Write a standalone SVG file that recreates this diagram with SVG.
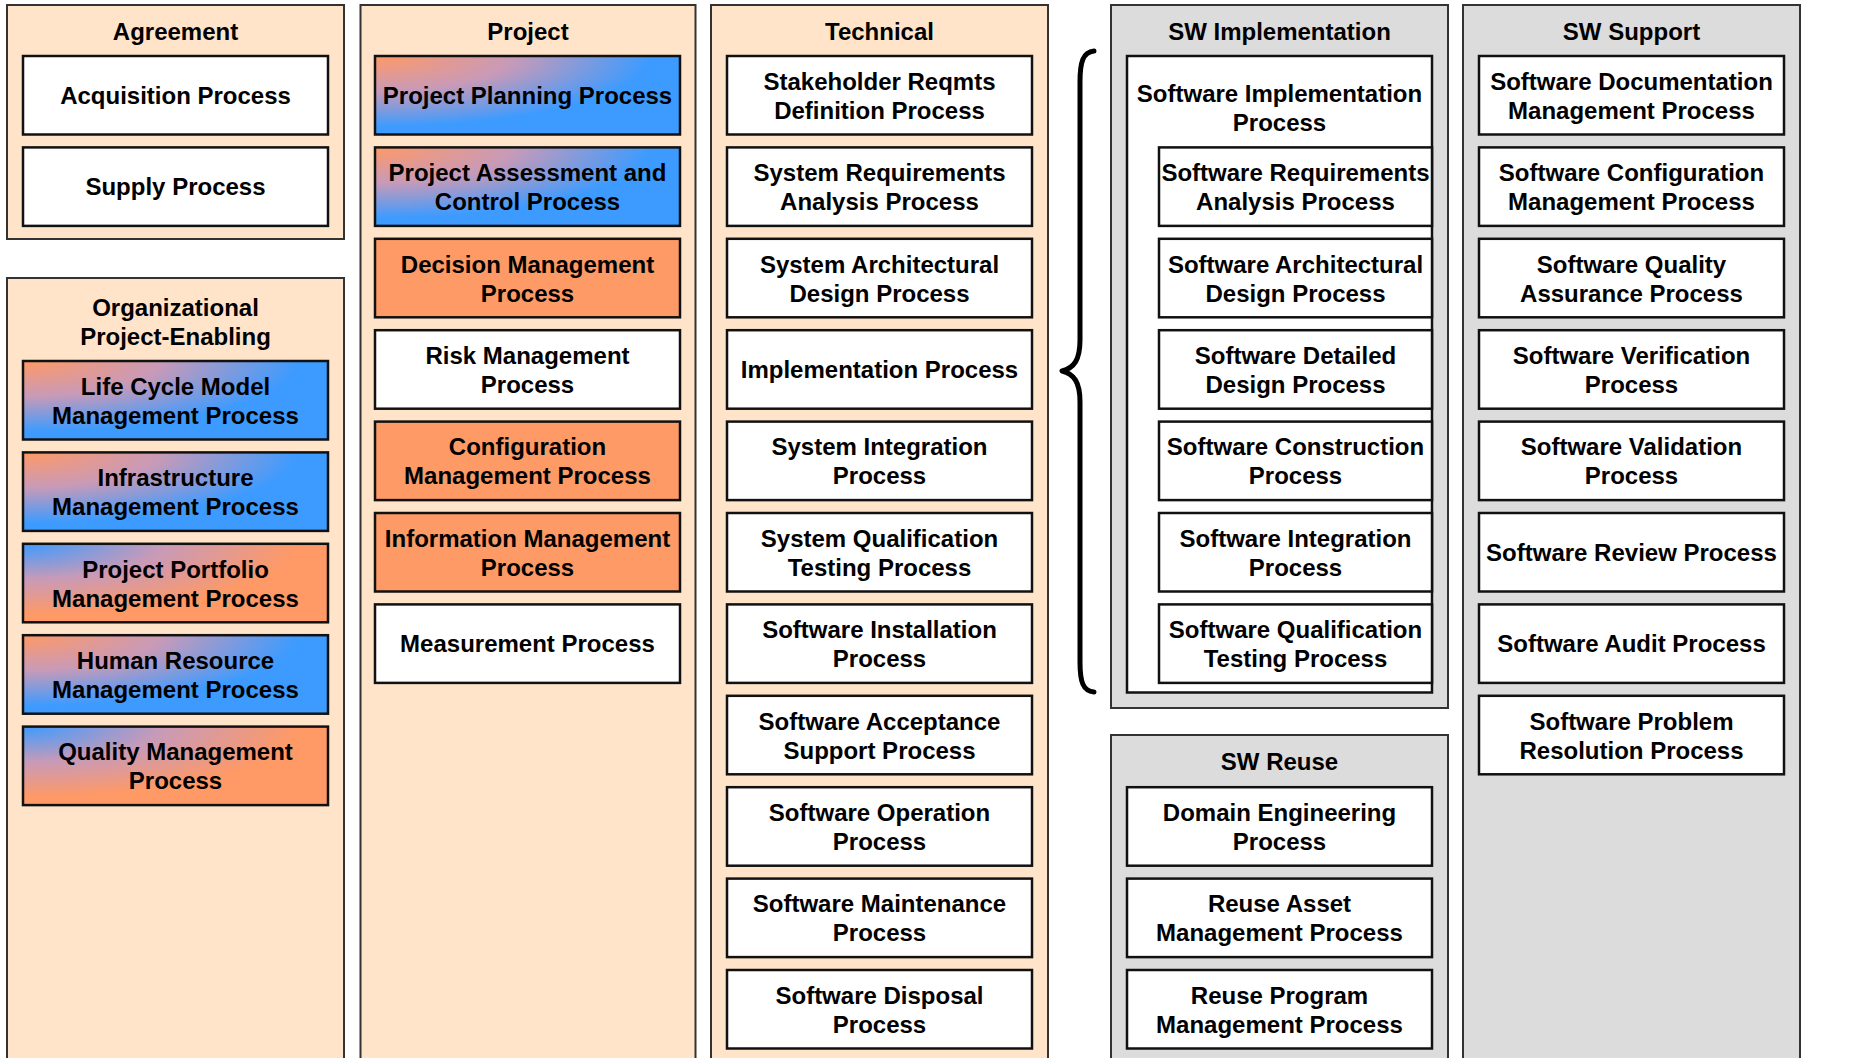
<svg xmlns="http://www.w3.org/2000/svg" width="1873" height="1058" viewBox="0 0 1873 1058">
<style>
.pp{fill:#FFE4CA;stroke:#333;stroke-width:2}
.pg{fill:#DCDCDC;stroke:#333;stroke-width:2}
.n{stroke:#111;stroke-width:2.5}
.w{fill:#fff}
.o{fill:#FD9A66}
.go{fill:url(#gO)}
.gb{fill:url(#gB)}
text{font-family:"Liberation Sans",Arial,Helvetica,sans-serif;font-weight:bold;font-size:24px;fill:#000;text-anchor:middle}
.br{fill:none;stroke:#000;stroke-width:5;stroke-linecap:round;stroke-linejoin:round}
</style>
<defs>
<radialGradient id="gO" cx="0" cy="0" r="1" fx="0" fy="0">
<stop offset="0" stop-color="#FF9966"/>
<stop offset="0.45" stop-color="#C89AB8"/>
<stop offset="0.9" stop-color="#3D9BFF"/>
</radialGradient>
<radialGradient id="gB" cx="0" cy="0" r="1" fx="0" fy="0">
<stop offset="0" stop-color="#3D9BFF"/>
<stop offset="0.45" stop-color="#C89AB8"/>
<stop offset="0.9" stop-color="#FF9966"/>
</radialGradient>
</defs>
<rect x="0" y="0" width="1873" height="1058" fill="#fff"/>

<!-- Panels -->
<g id="panel-agreement"><rect class="pp" x="7" y="5" width="337" height="234"/><text x="175.5" y="39.5">Agreement</text></g>
<g id="panel-org"><rect class="pp" x="7" y="278" width="337" height="800"/><text x="175.5" y="315.5">Organizational</text><text x="175.5" y="344.5">Project-Enabling</text></g>
<g id="panel-project"><rect class="pp" x="360.5" y="5" width="335" height="1073"/><text x="528" y="39.5">Project</text></g>
<g id="panel-technical"><rect class="pp" x="711" y="5" width="337" height="1073"/><text x="879.5" y="39.5">Technical</text></g>
<g id="panel-swimpl"><rect class="pg" x="1111" y="5" width="337" height="703"/><text x="1279.5" y="39.5">SW Implementation</text></g>
<g id="panel-swreuse"><rect class="pg" x="1111" y="735" width="337" height="343"/><text x="1279.5" y="769.5">SW Reuse</text></g>
<g id="panel-swsupport"><rect class="pg" x="1463" y="5" width="337" height="1073"/><text x="1631.5" y="39.5">SW Support</text></g>

<!-- Agreement nodes -->
<g id="acquisition"><rect class="n w" x="23" y="56" width="305" height="78.5"/><text x="175.5" y="103.75">Acquisition Process</text></g>
<g id="supply"><rect class="n w" x="23" y="147.4" width="305" height="78.5"/><text x="175.5" y="195.15">Supply Process</text></g>

<!-- Organizational nodes -->
<g id="lifecycle"><rect class="n go" x="23" y="361" width="305" height="78.5"/><text x="175.5" y="394.75">Life Cycle Model</text><text x="175.5" y="423.75">Management Process</text></g>
<g id="infrastructure"><rect class="n go" x="23" y="452.4" width="305" height="78.5"/><text x="175.5" y="486.15">Infrastructure</text><text x="175.5" y="515.15">Management Process</text></g>
<g id="portfolio"><rect class="n gb" x="23" y="543.8" width="305" height="78.5"/><text x="175.5" y="577.55">Project Portfolio</text><text x="175.5" y="606.55">Management Process</text></g>
<g id="humanresource"><rect class="n go" x="23" y="635.2" width="305" height="78.5"/><text x="175.5" y="668.95">Human Resource</text><text x="175.5" y="697.95">Management Process</text></g>
<g id="quality"><rect class="n gb" x="23" y="726.6" width="305" height="78.5"/><text x="175.5" y="760.35">Quality Management</text><text x="175.5" y="789.35">Process</text></g>

<!-- Project nodes -->
<g id="planning"><rect class="n go" x="375" y="56" width="305" height="78.5"/><text x="527.5" y="103.75">Project Planning Process</text></g>
<g id="assessment"><rect class="n go" x="375" y="147.4" width="305" height="78.5"/><text x="527.5" y="181.15">Project Assessment and</text><text x="527.5" y="210.15">Control Process</text></g>
<g id="decision"><rect class="n o" x="375" y="238.8" width="305" height="78.5"/><text x="527.5" y="272.55">Decision Management</text><text x="527.5" y="301.55">Process</text></g>
<g id="risk"><rect class="n w" x="375" y="330.2" width="305" height="78.5"/><text x="527.5" y="363.95">Risk Management</text><text x="527.5" y="392.95">Process</text></g>
<g id="configuration"><rect class="n o" x="375" y="421.6" width="305" height="78.5"/><text x="527.5" y="455.35">Configuration</text><text x="527.5" y="484.35">Management Process</text></g>
<g id="information"><rect class="n o" x="375" y="513" width="305" height="78.5"/><text x="527.5" y="546.75">Information Management</text><text x="527.5" y="575.75">Process</text></g>
<g id="measurement"><rect class="n w" x="375" y="604.4" width="305" height="78.5"/><text x="527.5" y="652.15">Measurement Process</text></g>

<!-- Technical nodes -->
<g id="stakeholder"><rect class="n w" x="727" y="56" width="305" height="78.5"/><text x="879.5" y="89.75">Stakeholder Reqmts</text><text x="879.5" y="118.75">Definition Process</text></g>
<g id="sysreq"><rect class="n w" x="727" y="147.4" width="305" height="78.5"/><text x="879.5" y="181.15">System Requirements</text><text x="879.5" y="210.15">Analysis Process</text></g>
<g id="sysarch"><rect class="n w" x="727" y="238.8" width="305" height="78.5"/><text x="879.5" y="272.55">System Architectural</text><text x="879.5" y="301.55">Design Process</text></g>
<g id="implementation"><rect class="n w" x="727" y="330.2" width="305" height="78.5"/><text x="879.5" y="377.95">Implementation Process</text></g>
<g id="sysint"><rect class="n w" x="727" y="421.6" width="305" height="78.5"/><text x="879.5" y="455.35">System Integration</text><text x="879.5" y="484.35">Process</text></g>
<g id="sysqual"><rect class="n w" x="727" y="513" width="305" height="78.5"/><text x="879.5" y="546.75">System Qualification</text><text x="879.5" y="575.75">Testing Process</text></g>
<g id="swinstall"><rect class="n w" x="727" y="604.4" width="305" height="78.5"/><text x="879.5" y="638.15">Software Installation</text><text x="879.5" y="667.15">Process</text></g>
<g id="swaccept"><rect class="n w" x="727" y="695.8" width="305" height="78.5"/><text x="879.5" y="729.55">Software Acceptance</text><text x="879.5" y="758.55">Support Process</text></g>
<g id="swoper"><rect class="n w" x="727" y="787.2" width="305" height="78.5"/><text x="879.5" y="820.95">Software Operation</text><text x="879.5" y="849.95">Process</text></g>
<g id="swmaint"><rect class="n w" x="727" y="878.6" width="305" height="78.5"/><text x="879.5" y="912.35">Software Maintenance</text><text x="879.5" y="941.35">Process</text></g>
<g id="swdisposal"><rect class="n w" x="727" y="970" width="305" height="78.5"/><text x="879.5" y="1003.75">Software Disposal</text><text x="879.5" y="1032.75">Process</text></g>

<!-- SW Implementation nodes -->
<g id="swimplproc"><rect class="n w" x="1127" y="56" width="305" height="636.5"/><text x="1279.5" y="101.5">Software Implementation</text><text x="1279.5" y="130.5">Process</text></g>
<g id="swreq"><rect class="n w" x="1159" y="147.4" width="273" height="78.5"/><text x="1295.5" y="181.15">Software Requirements</text><text x="1295.5" y="210.15">Analysis Process</text></g>
<g id="swarch"><rect class="n w" x="1159" y="238.8" width="273" height="78.5"/><text x="1295.5" y="272.55">Software Architectural</text><text x="1295.5" y="301.55">Design Process</text></g>
<g id="swdetail"><rect class="n w" x="1159" y="330.2" width="273" height="78.5"/><text x="1295.5" y="363.95">Software Detailed</text><text x="1295.5" y="392.95">Design Process</text></g>
<g id="swconstr"><rect class="n w" x="1159" y="421.6" width="273" height="78.5"/><text x="1295.5" y="455.35">Software Construction</text><text x="1295.5" y="484.35">Process</text></g>
<g id="swinteg"><rect class="n w" x="1159" y="513" width="273" height="78.5"/><text x="1295.5" y="546.75">Software Integration</text><text x="1295.5" y="575.75">Process</text></g>
<g id="swqualtest"><rect class="n w" x="1159" y="604.4" width="273" height="78.5"/><text x="1295.5" y="638.15">Software Qualification</text><text x="1295.5" y="667.15">Testing Process</text></g>

<!-- SW Reuse nodes -->
<g id="domaineng"><rect class="n w" x="1127" y="787.2" width="305" height="78.5"/><text x="1279.5" y="820.95">Domain Engineering</text><text x="1279.5" y="849.95">Process</text></g>
<g id="reuseasset"><rect class="n w" x="1127" y="878.6" width="305" height="78.5"/><text x="1279.5" y="912.35">Reuse Asset</text><text x="1279.5" y="941.35">Management Process</text></g>
<g id="reuseprog"><rect class="n w" x="1127" y="970" width="305" height="78.5"/><text x="1279.5" y="1003.75">Reuse Program</text><text x="1279.5" y="1032.75">Management Process</text></g>

<!-- SW Support nodes -->
<g id="swdoc"><rect class="n w" x="1479" y="56" width="305" height="78.5"/><text x="1631.5" y="89.75">Software Documentation</text><text x="1631.5" y="118.75">Management Process</text></g>
<g id="swconfig"><rect class="n w" x="1479" y="147.4" width="305" height="78.5"/><text x="1631.5" y="181.15">Software Configuration</text><text x="1631.5" y="210.15">Management Process</text></g>
<g id="swqa"><rect class="n w" x="1479" y="238.8" width="305" height="78.5"/><text x="1631.5" y="272.55">Software Quality</text><text x="1631.5" y="301.55">Assurance Process</text></g>
<g id="swverif"><rect class="n w" x="1479" y="330.2" width="305" height="78.5"/><text x="1631.5" y="363.95">Software Verification</text><text x="1631.5" y="392.95">Process</text></g>
<g id="swvalid"><rect class="n w" x="1479" y="421.6" width="305" height="78.5"/><text x="1631.5" y="455.35">Software Validation</text><text x="1631.5" y="484.35">Process</text></g>
<g id="swreview"><rect class="n w" x="1479" y="513" width="305" height="78.5"/><text x="1631.5" y="560.75">Software Review Process</text></g>
<g id="swaudit"><rect class="n w" x="1479" y="604.4" width="305" height="78.5"/><text x="1631.5" y="652.15">Software Audit Process</text></g>
<g id="swproblem"><rect class="n w" x="1479" y="695.8" width="305" height="78.5"/><text x="1631.5" y="729.55">Software Problem</text><text x="1631.5" y="758.55">Resolution Process</text></g>

<!-- Connectors -->
<g id="connectors">
<path class="br" d="M1094,51 C1083,52 1080,62 1080,82 L1080,340 C1080,360 1074,368 1062,371 C1074,374 1080,382 1080,402 L1080,662 C1080,682 1083,691 1094,692"/>
</g>
</svg>
